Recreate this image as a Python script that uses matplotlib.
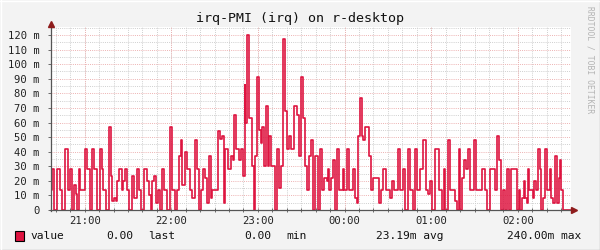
import matplotlib

matplotlib.use("Agg")
import matplotlib.pyplot as plt
from matplotlib.lines import Line2D
from matplotlib.patches import Rectangle

# minutos depois das 20:00 em que o valor muda, e o valor (em m) a partir dali
change_min = [
    36.7, 37.4, 38.6, 41.1, 43.1, 44.5, 46.6, 48.5, 50.1, 51.5,
    52.6, 53.7, 54.9, 56.1, 57.0, 60.0, 61.8, 63.7, 65.1, 66.7,
    68.8, 70.4, 71.8, 72.9, 74.8, 76.9, 78.5, 79.2, 80.1, 81.7,
    82.6, 84.0, 85.7, 86.6, 87.9, 89.5, 90.7, 92.6, 94.2, 96.0,
    97.8, 99.0, 101.3, 103.2, 104.5, 105.9, 106.8, 108.2, 109.6, 111.0,
    112.4, 113.4, 115.2, 117.0, 118.9, 120.3, 122.6, 124.0, 125.3, 126.7,
    127.6, 129.5, 130.9, 133.2, 134.6, 136.2, 137.6, 139.0, 140.4, 141.8,
    143.1, 144.5, 145.9, 147.3, 148.4, 152.1, 153.5, 155.3, 156.3, 157.4,
    159.3, 161.6, 162.5, 163.4, 164.8, 166.7, 168.1, 169.4, 170.8, 171.2,
    172.6, 174.0, 175.9, 177.3, 178.2, 179.6, 181.0, 181.9, 182.8, 184.0,
    185.4, 186.8, 187.7, 189.1, 192.0, 193.2, 194.8, 195.8, 197.2, 198.5,
    200.1, 201.7, 203.1, 205.0, 207.1, 208.2, 209.6, 211.0, 212.4, 214.2,
    215.6, 217.0, 217.9, 219.7, 221.6, 223.0, 224.4, 225.8, 227.6, 228.5,
    229.4, 230.8, 232.2, 233.2, 234.5, 235.9, 238.7, 239.6, 241.5, 243.3,
    246.0, 247.4, 248.4, 249.3, 250.7, 251.9, 253.0, 254.4, 256.7, 258.1,
    259.5, 263.6, 265.0, 266.8, 268.7, 271.5, 272.9, 274.2, 277.2, 278.6,
    280.5, 281.8, 284.1, 285.5, 287.4, 288.8, 290.2, 292.4, 294.3, 296.2,
    298.0, 299.4, 300.7, 302.6, 305.4, 307.3, 308.6, 309.5, 311.4, 312.8,
    316.4, 317.8, 319.2, 320.1, 321.5, 322.9, 324.3, 325.7, 327.1, 329.4,
    330.8, 335.4, 337.0, 338.4, 340.7, 344.0, 345.8, 347.2, 348.5, 349.9,
    350.9, 352.3, 354.1, 355.5, 359.2, 360.6, 361.5, 362.9, 364.3, 365.2,
    366.2, 367.0, 367.9, 370.3, 371.2, 372.6, 374.0, 375.3, 376.2, 377.6,
    379.0, 380.4, 382.3, 383.2, 384.6, 386.0, 386.9, 388.3, 389.2, 390.1,
    391.5,
]
values = [
    14, 28, 0, 28, 14, 0, 42, 14, 28, 0,
    17, 11, 0, 28, 14, 42, 28, 0, 42, 28,
    0, 42, 28, 14, 0, 57, 23, 6, 8, 6,
    20, 28, 14, 20, 28, 14, 0, 23, 8, 28,
    14, 0, 28, 20, 10, 0, 20, 23, 5, 14,
    0, 28, 14, 0, 57, 14, 0, 14, 37, 48,
    17, 40, 28, 14, 8, 48, 28, 0, 14, 28,
    22, 5, 37, 8, 14, 54, 49, 51, 5, 42,
    28, 37, 34, 65, 42, 34, 42, 23, 86, 60,
    120, 63, 30, 0, 37, 91, 55, 46, 57, 30,
    71, 30, 51, 30, 0, 42, 15, 30, 117, 68,
    42, 51, 42, 71, 65, 37, 91, 63, 30, 14,
    37, 48, 0, 37, 0, 42, 14, 22, 20, 28,
    14, 22, 34, 0, 42, 14, 28, 14, 42, 14,
    28, 8, 5, 51, 77, 51, 48, 57, 37, 14,
    22, 5, 14, 28, 14, 8, 20, 14, 42, 14,
    28, 0, 42, 14, 0, 42, 14, 28, 48, 14,
    11, 20, 0, 42, 14, 0, 28, 0, 48, 14,
    6, 0, 42, 0, 22, 34, 28, 42, 14, 48,
    14, 28, 14, 0, 28, 14, 51, 34, 0, 14,
    0, 28, 0, 28, 0, 14, 0, 8, 20, 8,
    5, 28, 14, 8, 20, 14, 42, 28, 0, 8,
    42, 14, 28, 8, 5, 37, 5, 22, 34, 14,
    0,
]
end_min = 396.8

hour_ticks = [21, 22, 23, 24, 25, 26]
hour_labels = ["21:00", "22:00", "23:00", "00:00", "01:00", "02:00"]
y_ticks = list(range(0, 130, 10))
y_labels = [f"{v} m" if v else "0" for v in y_ticks]

legend_items = [
    ("value", 30, "left"), ("0.00", 133, "right"), ("last", 148, "left"),
    ("0.00", 271, "right"), ("min", 286, "left"),
    ("23.19m avg", 376, "left"), ("240.00m max", 507, "left"),
]

COR_LINHA = "#DE1440"
COR_SETA = "#8E1C1C"
COR_EIXO = "#555555"
COR_GRADE = "#CFCFCF"
COR_GRADE_MAIOR = "#EDB2B2"
MONO = "DejaVu Sans Mono"

W, H = 600, 250
fig = plt.figure(figsize=(6, 2.5), dpi=100, facecolor="#F3F3F3")


def fx(px):
    return px / W


def fy(py):
    return 1 - py / H


ax = fig.add_axes([fx(51), fy(210), fx(571) - fx(51), fy(27) - fy(210)])
ax.set_facecolor("white")

xs = [20 + m / 60 for m in change_min] + [20 + end_min / 60]
ys = values + [values[-1]]
ax.step(xs, ys, where="post", color=COR_LINHA, lw=1.2, zorder=3)

ax.set_xlim(20 + 36.7 / 60, 20 + end_min / 60)
ax.set_ylim(0, 125.5)

# grade menor (cinza) e maior (avermelhada), pontilhadas
minor_x = [20 + m / 60 for m in range(40, 400, 10)]
for x in minor_x:
    ax.axvline(x, color=COR_GRADE, lw=0.7, ls=(0, (1, 1.2)), zorder=1)
for v in range(5, 126, 10):
    ax.axhline(v, color=COR_GRADE, lw=0.7, ls=(0, (1, 1.2)), zorder=1)
for x in hour_ticks:
    ax.axvline(x, color=COR_GRADE_MAIOR, lw=0.7, ls=(0, (1, 1.2)), zorder=2)
for v in y_ticks[1:]:
    ax.axhline(v, color=COR_GRADE_MAIOR, lw=0.7, ls=(0, (1, 1.2)), zorder=2)

ax.set_xticks(hour_ticks)
ax.set_xticklabels(hour_labels, fontfamily=MONO, fontsize=7.6, color="#222222")
ax.set_xticks(minor_x, minor=True)
ax.set_yticks(y_ticks)
ax.set_yticklabels(y_labels, fontfamily=MONO, fontsize=7.6, color="#222222")
ax.tick_params(axis="x", which="both", direction="inout", length=3, width=0.6,
               color=COR_EIXO, pad=3)
ax.tick_params(axis="y", which="both", length=2, width=0.6, color=COR_EIXO, pad=6)

for s in ("top", "right", "left", "bottom"):
    ax.spines[s].set_visible(False)

# eixos com setas, estilo rrdtool
fig.add_artist(Line2D([fx(51), fx(51)], [fy(211), fy(24)], color=COR_EIXO, lw=0.9))
fig.add_artist(Line2D([fx(50), fx(574)], [fy(210), fy(210)], color=COR_EIXO, lw=0.9))
fig.add_artist(Line2D([fx(51)], [fy(24)], marker="^", ms=4.5, color=COR_SETA,
                      transform=fig.transFigure))
fig.add_artist(Line2D([fx(574)], [fy(210)], marker=">", ms=4.5, color=COR_SETA,
                      transform=fig.transFigure))

fig.text(0.5, fy(18.5), "irq-PMI (irq) on r-desktop", ha="center", va="center",
         fontfamily=MONO, fontsize=9.6, color="#111111")
fig.text(fx(590), fy(60), "RRDTOOL / TOBI OETIKER", rotation=270, ha="center",
         va="center", fontfamily=MONO, fontsize=5.8, color="#B4B4B4")

fig.add_artist(Rectangle((fx(15), fy(240.5)), fx(9), fy(231) - fy(240.5),
                         facecolor=COR_LINHA, edgecolor="black", lw=0.8,
                         transform=fig.transFigure))
for txt, x, ha in legend_items:
    fig.text(fx(x), fy(236), txt, ha=ha, va="center", fontfamily=MONO,
             fontsize=8.1, color="#111111")

# moldura sombreada do canvas
fig.add_artist(Line2D([0, 1], [fy(249.5), fy(249.5)], color="#B8B8B8", lw=1))
fig.add_artist(Line2D([fx(599.5), fx(599.5)], [0, 1], color="#B8B8B8", lw=1))
fig.add_artist(Line2D([0, 1], [fy(0.5), fy(0.5)], color="#FFFFFF", lw=1))
fig.add_artist(Line2D([fx(0.5), fx(0.5)], [0, 1], color="#FFFFFF", lw=1))

fig.savefig("out.png", dpi=100, facecolor=fig.get_facecolor())
